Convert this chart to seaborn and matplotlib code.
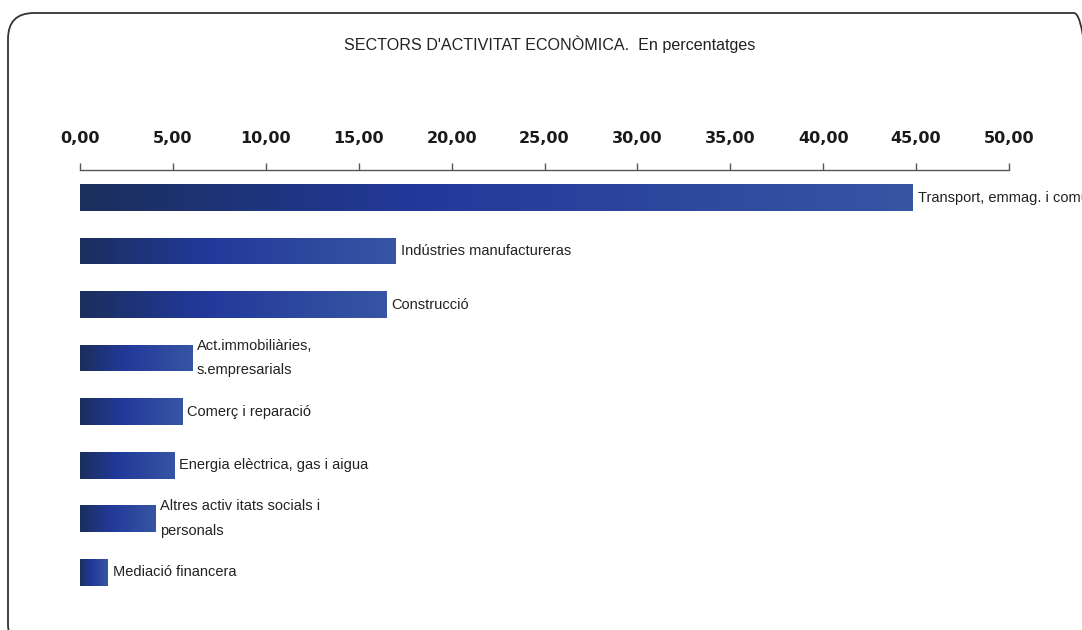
import matplotlib

matplotlib.use("Agg")
import matplotlib.pyplot as plt
import numpy as np
import pandas as pd
import seaborn as sns
from matplotlib.colors import LinearSegmentedColormap
from matplotlib.patches import FancyBboxPatch
from matplotlib.ticker import FuncFormatter
from matplotlib.transforms import IdentityTransform

TITLE = "SECTORS D'ACTIVITAT ECONÒMICA.  En percentatges"
SECTORS = [
    "Transport, emmag. i comunicacions",
    "Indústries manufactureras",
    "Construcció",
    "Act.immobiliàries,\ns.empresarials",
    "Comerç i reparació",
    "Energia elèctrica, gas i aigua",
    "Altres activitats socials i\npersonals",
    "Mediació financera",
]
LABELS = [
    "Transport, emmag. i comunicacions",
    "Indústries manufactureras",
    "Construcció",
    "Act.immobiliàries,\ns.empresarials",
    "Comerç i reparació",
    "Energia elèctrica, gas i aigua",
    "Altres activ itats socials i\npersonals",
    "Mediació financera",
]
VALUES = [44.83, 17.00, 16.47, 6.03, 5.49, 5.06, 4.04, 1.49]
X_TICKS = [0, 5, 10, 15, 20, 25, 30, 35, 40, 45, 50]

BAR_CMAP = LinearSegmentedColormap.from_list(
    "bar", [(0.0, "#1b2f5c"), (0.4, "#22399a"), (1.0, "#3755a3")]
)

df = pd.DataFrame({"sector": SECTORS, "value": VALUES})

sns.set_theme(style="white")
plt.rcParams["font.family"] = ["Liberation Sans", "DejaVu Sans"]

W, H = 1082, 630
fig = plt.figure(figsize=(W / 100, H / 100), dpi=100)
fig.patch.set_facecolor("white")

# axes box: x 0..50 spans px 80..1009, top axis line at px 170
left, right, top, bottom = 80, 1009, 170, 600
ax = fig.add_axes([left / W, 1 - bottom / H, (right - left) / W, (bottom - top) / H])

sns.barplot(data=df, x="value", y="sector", orient="h", width=0.5,
            color="#22399a", ax=ax)

grad = np.linspace(0, 1, 256).reshape(1, -1)
for patch in list(ax.patches):
    x0, y0 = patch.get_x(), patch.get_y()
    w, h = patch.get_width(), patch.get_height()
    patch.set_facecolor("none")
    patch.set_edgecolor("none")
    im = ax.imshow(grad, cmap=BAR_CMAP, aspect="auto",
                   extent=(x0, x0 + w, y0 + h, y0), zorder=2)
    im.set_clip_path(patch)

for i, (val, lab) in enumerate(zip(VALUES, LABELS)):
    ax.text(val + 0.27, i, lab, va="center", ha="left", fontsize=10.5,
            color="#222222", linespacing=1.95, clip_on=False)

ax.set_xlim(0, 50)
ax.set_ylim(7.52, -0.514)
ax.set_xticks(X_TICKS)
ax.xaxis.set_major_formatter(FuncFormatter(lambda v, _: f"{v:.2f}".replace(".", ",")))
ax.xaxis.tick_top()
ax.tick_params(axis="x", which="major", direction="out", length=5, width=1,
               color="#555555", pad=12, labelsize=11.5, labelcolor="#1a1a1a",
               top=True, bottom=False)
for lbl in ax.get_xticklabels():
    lbl.set_fontweight("bold")
    lbl.set_fontfamily("DejaVu Sans")
ax.tick_params(axis="y", left=False, labelleft=False)
ax.set_xlabel("")
ax.set_ylabel("")
for side in ["bottom", "left", "right"]:
    ax.spines[side].set_visible(False)
ax.spines["top"].set_color("#555555")
ax.spines["top"].set_linewidth(1)
ax.patch.set_alpha(0)

fig.text(550 / W, 1 - 44 / H, TITLE, ha="center", va="center", fontsize=11.6,
         color="#222222")

frame = FancyBboxPatch((8, -20), 1092, 637,
                       boxstyle="round,pad=0,rounding_size=26",
                       transform=IdentityTransform(), facecolor="none",
                       edgecolor="#333333", linewidth=1.3)
fig.add_artist(frame)

fig.savefig("out.png", dpi=100)
